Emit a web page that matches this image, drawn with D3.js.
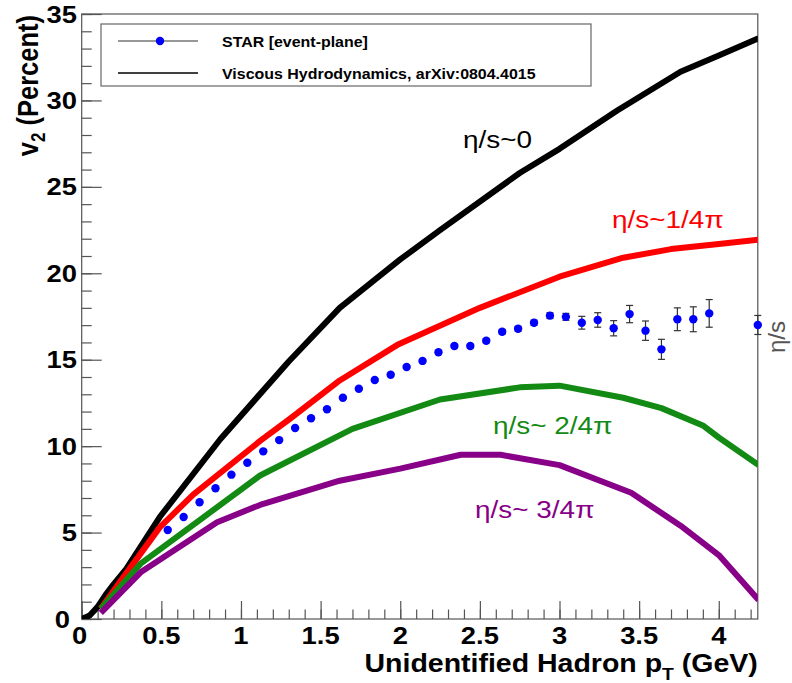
<!DOCTYPE html>
<html>
<head>
<meta charset="utf-8">
<script src="https://cdn.jsdelivr.net/npm/d3@7"></script>
<style>
  html, body { margin: 0; padding: 0; background: #fff; }
  svg { display: block; }
</style>
</head>
<body>
<svg id="chart" width="792" height="683"></svg>
<script>
// ---- STAR measurement (event-plane v2, percent) ----
const starPt  = [0.54, 0.64, 0.74, 0.84, 0.94, 1.04, 1.14, 1.24, 1.34, 1.44, 1.54, 1.64, 1.74, 1.84, 1.94,
                 2.04, 2.14, 2.24, 2.34, 2.44, 2.54, 2.64, 2.74, 2.84, 2.94, 3.04, 3.14, 3.24, 3.34, 3.44,
                 3.54, 3.64, 3.74, 3.84, 3.94, 4.245];
const starV2  = [5.15, 5.9, 6.75, 7.56, 8.35, 9.04, 9.7, 10.35, 11.05, 11.61, 12.13, 12.8, 13.32, 13.83, 14.13,
                 14.58, 14.93, 15.43, 15.79, 15.79, 16.1, 16.62, 16.79, 17.14, 17.55, 17.48, 17.14, 17.3, 16.82, 17.64,
                 16.68, 15.6, 17.34, 17.34, 17.68, 17.01];
const starErr = [0.05, 0.05, 0.05, 0.05, 0.05, 0.05, 0.05, 0.05, 0.05, 0.05, 0.06, 0.06, 0.07, 0.07, 0.08,
                 0.08, 0.09, 0.1, 0.1, 0.11, 0.12, 0.13, 0.14, 0.15, 0.17, 0.2, 0.37, 0.42, 0.44, 0.5,
                 0.56, 0.58, 0.66, 0.72, 0.8, 0.55];

// ---- Viscous hydrodynamics curves ----
const idealPt  = [0, 0.05, 0.1, 0.15, 0.2, 0.28, 0.49, 0.87, 1.3, 1.62, 2.0, 2.25, 2.75, 3.0, 3.36, 3.76, 4.0, 4.25];
const idealV2  = [0, 0.2, 0.7, 1.4, 2.0, 2.9, 5.9, 10.4, 14.9, 18.0, 20.8, 22.5, 25.8, 27.2, 29.4, 31.66, 32.6, 33.6];

const quarterPt = [0.12, 0.3, 0.49, 0.7, 1.12, 1.31, 1.62, 1.99, 2.5, 3.0, 3.4, 3.7, 4.0, 4.25];
const quarterV2 = [0.6, 2.9, 5.3, 7.2, 10.3, 11.6, 13.8, 15.9, 18.0, 19.8, 20.9, 21.4, 21.7, 21.95];

const halfPt = [0.12, 0.37, 1.12, 1.7, 2.25, 2.75, 3.0, 3.4, 3.64, 3.9, 4.0, 4.25];
const halfV2 = [0.6, 3.2, 8.3, 11.0, 12.7, 13.4, 13.5, 12.8, 12.2, 11.2, 10.5, 8.9];

const threeQPt = [0.12, 0.37, 0.85, 1.12, 1.62, 2.0, 2.38, 2.63, 3.0, 3.45, 3.76, 4.0, 4.25];
const threeQV2 = [0.35, 2.7, 5.6, 6.6, 8.0, 8.7, 9.5, 9.5, 8.9, 7.3, 5.4, 3.7, 1.1];

// ---- axis ticks and labels ----
const xMajor = [0, 0.5, 1, 1.5, 2, 2.5, 3, 3.5, 4];
const xTickLabels = ["0", "0.5", "1", "1.5", "2", "2.5", "3", "3.5", "4"];
const yMajor = [0, 5, 10, 15, 20, 25, 30, 35];
const yTickLabels = ["0", "5", "10", "15", "20", "25", "30", "35"];

const curveLabels = ["η/s~0", "η/s~1/4π", "η/s~ 2/4π", "η/s~ 3/4π"];
const curveColors = ["#000000", "#ff0000", "#138a13", "#870087"];
const legendLabels = ["STAR [event-plane]", "Viscous Hydrodynamics, arXiv:0804.4015"];

// ---- layout ----
const svg = d3.select("#chart");
const plot = { left: 81.7, right: 757.8, top: 14, bottom: 619 };
const x = d3.scaleLinear().domain([0, 4.245]).range([plot.left, plot.right]);
const y = d3.scaleLinear().domain([0, 35]).range([plot.bottom, plot.top]);
const SX = 1.14;               // horizontal stretch of the lettering
const FONT = "'Liberation Sans', Arial, Helvetica, sans-serif";

function putText(parent, px, py, str, o) {
  const t = parent.append("text")
    .attr("transform", `translate(${px},${py}) scale(${o.sx || SX},1)`)
    .attr("font-family", FONT)
    .attr("font-size", o.size)
    .attr("font-weight", o.weight || "normal")
    .attr("fill", o.fill || "#000")
    .attr("text-anchor", o.anchor || "start")
    .text(str);
  return t;
}

// clip region for the curves
svg.append("defs").append("clipPath").attr("id", "frameClip")
  .append("rect")
  .attr("x", plot.left).attr("y", plot.top)
  .attr("width", plot.right - plot.left).attr("height", plot.bottom - plot.top);

// ---- frame ----
svg.append("rect")
  .attr("x", plot.left).attr("y", plot.top)
  .attr("width", plot.right - plot.left).attr("height", plot.bottom - plot.top)
  .attr("fill", "none").attr("stroke", "#555").attr("stroke-width", 1.2);

// ---- axes ----
const xAxisMinor = d3.axisTop(x).tickValues(d3.range(0, 43).map(i => i / 10)).tickSize(9.5).tickFormat("");
const xAxisMajor = d3.axisTop(x).tickValues(xMajor).tickSize(18).tickFormat("");
const yAxisMinor = d3.axisRight(y).tickValues(d3.range(0, 36)).tickSize(10).tickFormat("");
const yAxisMajor = d3.axisRight(y).tickValues(yMajor).tickSize(20).tickFormat("");

function styleAxis(g) {
  g.select(".domain").remove();
  g.selectAll("line").attr("stroke", "#555").attr("stroke-width", 1.2);
}
svg.append("g").attr("transform", `translate(0,${plot.bottom})`).call(xAxisMinor).call(styleAxis);
svg.append("g").attr("transform", `translate(0,${plot.bottom})`).call(xAxisMajor).call(styleAxis);
svg.append("g").attr("transform", `translate(${plot.left},0)`).call(yAxisMinor).call(styleAxis);
svg.append("g").attr("transform", `translate(${plot.left},0)`).call(yAxisMajor).call(styleAxis);

// tick labels
const tickG = svg.append("g");
xMajor.forEach((v, i) => {
  putText(tickG, x(v) - (i === 0 ? 2 : 0), 644, xTickLabels[i], { size: 24, weight: "bold", anchor: "middle" });
});
yMajor.forEach((v, i) => {
  const px = i === 0 ? 70 : 77;
  putText(tickG, px, y(v) + 8.5, yTickLabels[i], { size: 24, weight: "bold", anchor: "end" });
});

// axis titles
const xt = putText(svg, plot.right, 672, "", { size: 25, weight: "bold", anchor: "end" });
xt.append("tspan").text("Unidentified Hadron p");
xt.append("tspan").attr("font-size", 17).attr("dy", 8).text("T");
xt.append("tspan").attr("dy", -8).text(" (GeV)");

const yt = svg.append("text")
  .attr("transform", `translate(38,15) rotate(-90) scale(1,${SX})`)
  .attr("font-family", FONT).attr("font-size", 25.5).attr("font-weight", "bold")
  .attr("text-anchor", "end");
yt.append("tspan").text("v");
yt.append("tspan").attr("font-size", 17).attr("dy", 6).text("2");
yt.append("tspan").attr("dy", -6).text(" (Percent)");

// ---- hydro curves ----
const line = d3.line().x(d => x(d[0])).y(d => y(d[1])).curve(d3.curveLinear);
const curves = [
  d3.zip(idealPt, idealV2),
  d3.zip(quarterPt, quarterV2),
  d3.zip(halfPt, halfV2),
  d3.zip(threeQPt, threeQV2)
];
const curveG = svg.append("g").attr("clip-path", "url(#frameClip)");
curves.forEach((c, i) => {
  curveG.append("path").datum(c)
    .attr("d", line)
    .attr("fill", "none")
    .attr("stroke", curveColors[i])
    .attr("stroke-width", 6)
    .attr("stroke-linejoin", "round");
});

// curve labels
const labelPos = [[463, 148], [612, 228], [493, 434], [475, 518]];
curveLabels.forEach((s, i) => {
  putText(svg, labelPos[i][0], labelPos[i][1], s, { size: 24.5, fill: curveColors[i] });
});

// ---- STAR points with error bars ----
const star = d3.zip(starPt, starV2, starErr);
const ptsG = svg.append("g");
const capW = 3.5;
ptsG.selectAll("g.err").data(star).join("g").attr("class", "err")
  .each(function (d) {
    const g = d3.select(this);
    const cx = x(d[0]), y0 = y(d[1] - d[2]), y1 = y(d[1] + d[2]);
    g.append("line").attr("x1", cx).attr("x2", cx).attr("y1", y0).attr("y2", y1);
    g.append("line").attr("x1", cx - capW).attr("x2", cx + capW).attr("y1", y0).attr("y2", y0);
    g.append("line").attr("x1", cx - capW).attr("x2", cx + capW).attr("y1", y1).attr("y2", y1);
  })
  .selectAll("line").attr("stroke", "#333").attr("stroke-width", 1.2);
ptsG.selectAll("circle").data(star).join("circle")
  .attr("cx", d => x(d[0])).attr("cy", d => y(d[1]))
  .attr("r", 4.2).attr("fill", "#0000ff");

// ---- legend ----
const leg = svg.append("g");
leg.append("rect")
  .attr("x", 101).attr("y", 24).attr("width", 490).attr("height", 62)
  .attr("fill", "#fff").attr("stroke", "#666").attr("stroke-width", 1.2);
leg.append("line").attr("x1", 118).attr("x2", 198).attr("y1", 41).attr("y2", 41)
  .attr("stroke", "#333").attr("stroke-width", 1.2);
leg.append("circle").attr("cx", 160).attr("cy", 41).attr("r", 4.2).attr("fill", "#0000ff");
leg.append("line").attr("x1", 118).attr("x2", 198).attr("y1", 73).attr("y2", 73)
  .attr("stroke", "#000").attr("stroke-width", 1.4);
putText(leg, 222, 47, legendLabels[0], { size: 14, weight: "bold" });
putText(leg, 222, 79, legendLabels[1], { size: 14, weight: "bold" });

// ---- rotated η/s annotation at the right edge ----
svg.append("text")
  .attr("transform", "translate(785,337) rotate(-90)")
  .attr("font-family", FONT).attr("font-size", 24).attr("fill", "#555")
  .attr("text-anchor", "middle")
  .text("η/s");
</script>
</body>
</html>
